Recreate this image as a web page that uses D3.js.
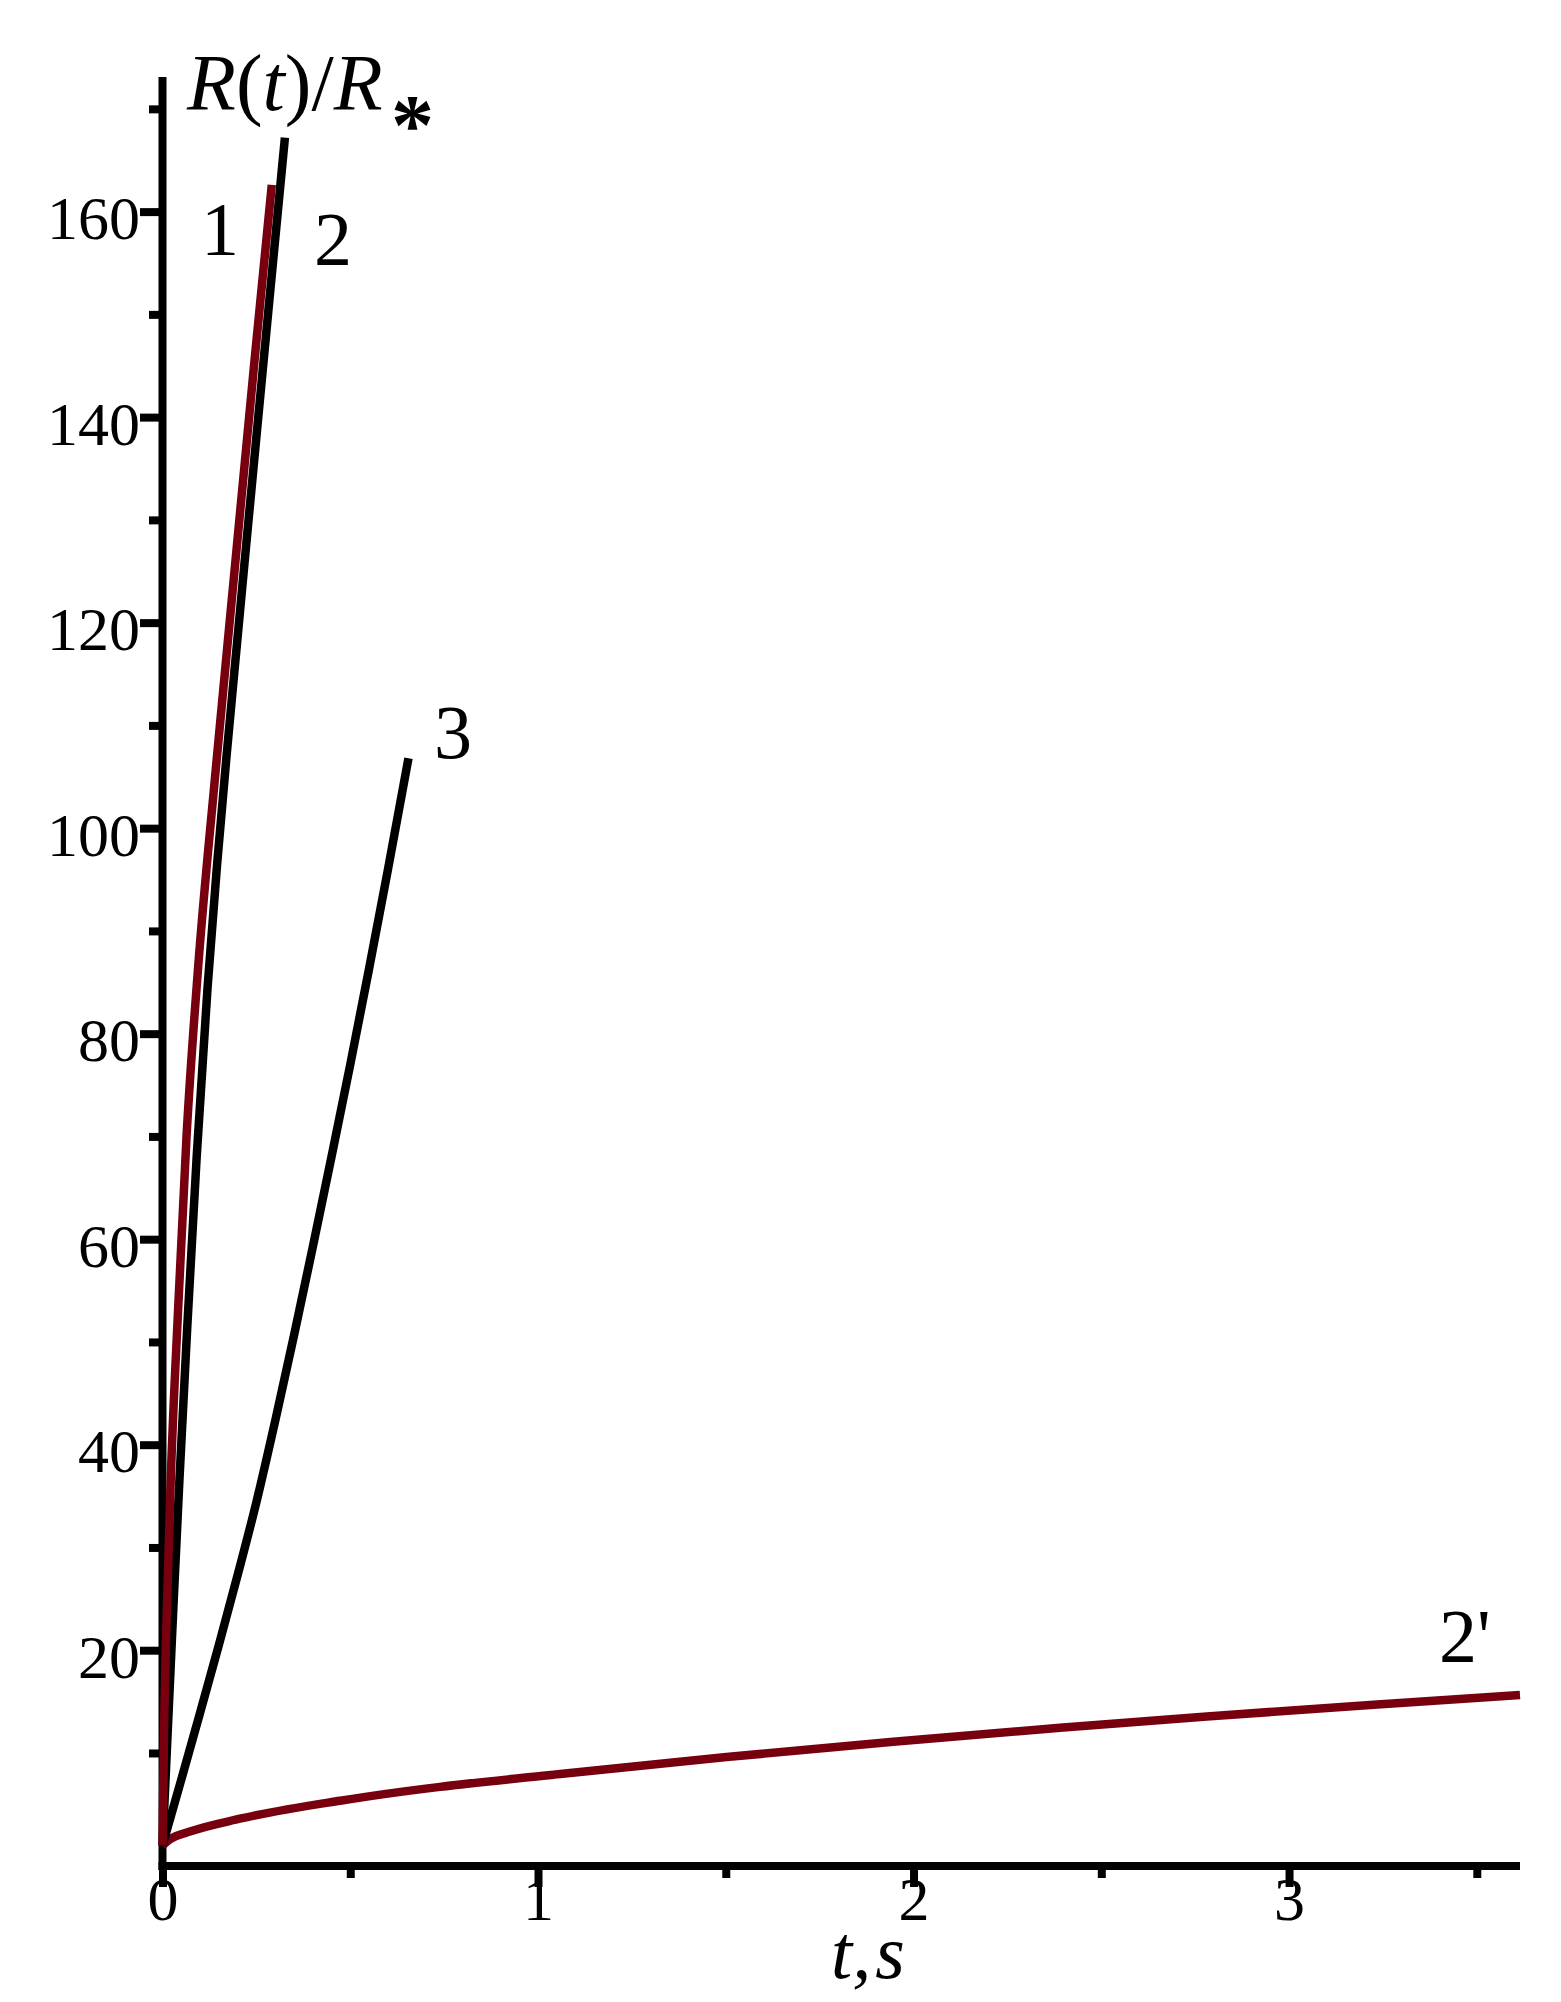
<!DOCTYPE html>
<html>
<head>
<meta charset="utf-8">
<script src="https://cdn.jsdelivr.net/npm/d3@7"></script>
<style>
  html, body { margin: 0; padding: 0; background: #ffffff; }
  svg { display: block; }
  text { font-family: "Liberation Serif", "Times New Roman", serif; fill: #000; }
</style>
</head>
<body>
<svg id="chart" width="1561" height="2002"></svg>
<script>
// ---------------- data ----------------
const xMajorTicks = [0, 1, 2, 3];
const xMinorTicks = [0.5, 1.5, 2.5, 3.5];
const yMajorTicks = [20, 40, 60, 80, 100, 120, 140, 160];
const yMinorTicks = [10, 30, 50, 70, 90, 110, 130, 150, 170];

// curve 1 (dark red)
const curve1T = [0, 0.004, 0.01, 0.022, 0.042, 0.064, 0.095, 0.14, 0.193, 0.245, 0.291];
const curve1R = [1, 12, 22, 36.7, 53.5, 70, 86.5, 105, 125.5, 145.5, 162.6];
// curve 2 (black)
const curve2T = [0, 0.01, 0.02, 0.03, 0.045, 0.066, 0.091, 0.12, 0.145, 0.171, 0.2, 0.224, 0.255, 0.282, 0.305, 0.326];
const curve2R = [1, 9, 17, 25, 36.5, 51.5, 68, 84.5, 96.3, 107.2, 118.6, 128, 140, 150.4, 159.2, 167.2];
// curve 3 (black)
const curve3T = [0, 0.05, 0.1, 0.15, 0.2, 0.25, 0.3, 0.35, 0.4, 0.45, 0.5, 0.55, 0.6, 0.655];
const curve3R = [1, 7.4, 13.9, 20.5, 27.3, 34.4, 42.3, 50.6, 59.2, 68.0, 77.0, 86.3, 95.9, 106.8];
// curve 2' (dark red)
const curve2pT = [0, 0.02, 0.073, 0.206, 0.473, 0.739, 1.059, 1.502, 1.946, 2.39, 2.781, 3.225, 3.615];
const curve2pR = [1, 1.6, 2.35, 3.6, 5.35, 6.7, 7.95, 9.6, 11.1, 12.45, 13.55, 14.7, 15.65];

const curveLabels = ["1", "2", "3", "2'"];

// ---------------- layout ----------------
const svg = d3.select("#chart");
svg.append("rect").attr("width", 1561).attr("height", 2002).attr("fill", "#fff");

const x = d3.scaleLinear().domain([0, 3.615]).range([162.5, 1520]);
const y = d3.scaleLinear().domain([-1, 173.1]).range([1866, 77]);

const RED = "#78000e";
const AXW = 8;
const tickFont = 62;

function zip(T, R) { return T.map((t, i) => ({t: t, r: R[i]})); }
const line = d3.line().x(d => x(d.t)).y(d => y(d.r)).curve(d3.curveMonotoneX);

// ---------------- axes ----------------
const x0 = x(0), yAxisPos = y(-1);

const gyMinor = svg.append("g").attr("transform", `translate(${x0},0)`)
  .call(d3.axisLeft(y).tickValues(yMinorTicks).tickSize(13.5).tickFormat(""));
const gy = svg.append("g").attr("transform", `translate(${x0},0)`)
  .call(d3.axisLeft(y).tickValues(yMajorTicks).tickSize(22.5).tickPadding(0));
const gxMinor = svg.append("g").attr("transform", `translate(0,${yAxisPos})`)
  .call(d3.axisBottom(x).tickValues(xMinorTicks).tickSize(12).tickFormat(""));
const gx = svg.append("g").attr("transform", `translate(0,${yAxisPos})`)
  .call(d3.axisBottom(x).tickValues(xMajorTicks).tickSize(21).tickFormat(d3.format("d")));

[gyMinor, gy, gxMinor, gx].forEach(g => {
  g.select(".domain").remove();
  g.selectAll(".tick line").attr("stroke", "#000").attr("stroke-width", AXW);
  g.selectAll(".tick text").attr("font-size", tickFont).attr("fill", "#000");
});
gy.selectAll(".tick text").attr("dy", "0.44em");
gx.selectAll(".tick text").attr("y", 0).attr("dy", 54);

// axis lines
svg.append("line").attr("x1", x0).attr("x2", x0)
  .attr("y1", yAxisPos + AXW / 2).attr("y2", y(173.1))
  .attr("stroke", "#000").attr("stroke-width", AXW);
svg.append("line").attr("x1", x0 - AXW / 2).attr("x2", x(3.615))
  .attr("y1", yAxisPos).attr("y2", yAxisPos)
  .attr("stroke", "#000").attr("stroke-width", AXW);

// ---------------- curves ----------------
const series = [
  {data: zip(curve2pT, curve2pR), color: RED},
  {data: zip(curve3T, curve3R), color: "#000"},
  {data: zip(curve2T, curve2R), color: "#000"},
  {data: zip(curve1T, curve1R), color: RED}
];
svg.append("g").selectAll("path").data(series).join("path")
  .attr("d", d => line(d.data))
  .attr("fill", "none")
  .attr("stroke", d => d.color)
  .attr("stroke-width", 8.5)
  .attr("stroke-linejoin", "round");

// ---------------- curve labels ----------------
const labelG = svg.append("g").attr("font-size", 76);
labelG.append("text").attr("x", 220).attr("y", 255).attr("text-anchor", "middle").text(curveLabels[0]);
labelG.append("text").attr("x", 333).attr("y", 265).attr("text-anchor", "middle").text(curveLabels[1]);
labelG.append("text").attr("x", 453).attr("y", 758).attr("text-anchor", "middle").text(curveLabels[2]);
labelG.append("text").attr("x", 1439).attr("y", 1662).attr("text-anchor", "start").text(curveLabels[3]);

// ---------------- axis titles ----------------
const yt = svg.append("text").attr("x", 187).attr("y", 110).attr("font-size", 80);
yt.append("tspan").attr("font-style", "italic").text("R");
yt.append("tspan").text("(");
yt.append("tspan").attr("font-style", "italic").text("t");
yt.append("tspan").text(")/");
yt.append("tspan").attr("font-style", "italic").text("R");
svg.append("text").attr("x", 391).attr("y", 154).attr("font-size", 86).attr("font-weight", "bold").text("*");

const xt = svg.append("text").attr("x", 831).attr("y", 1978).attr("font-size", 76).attr("font-style", "italic");
xt.append("tspan").text("t");
xt.append("tspan").text(",");
xt.append("tspan").attr("dx", 4).text("s");
</script>
</body>
</html>
